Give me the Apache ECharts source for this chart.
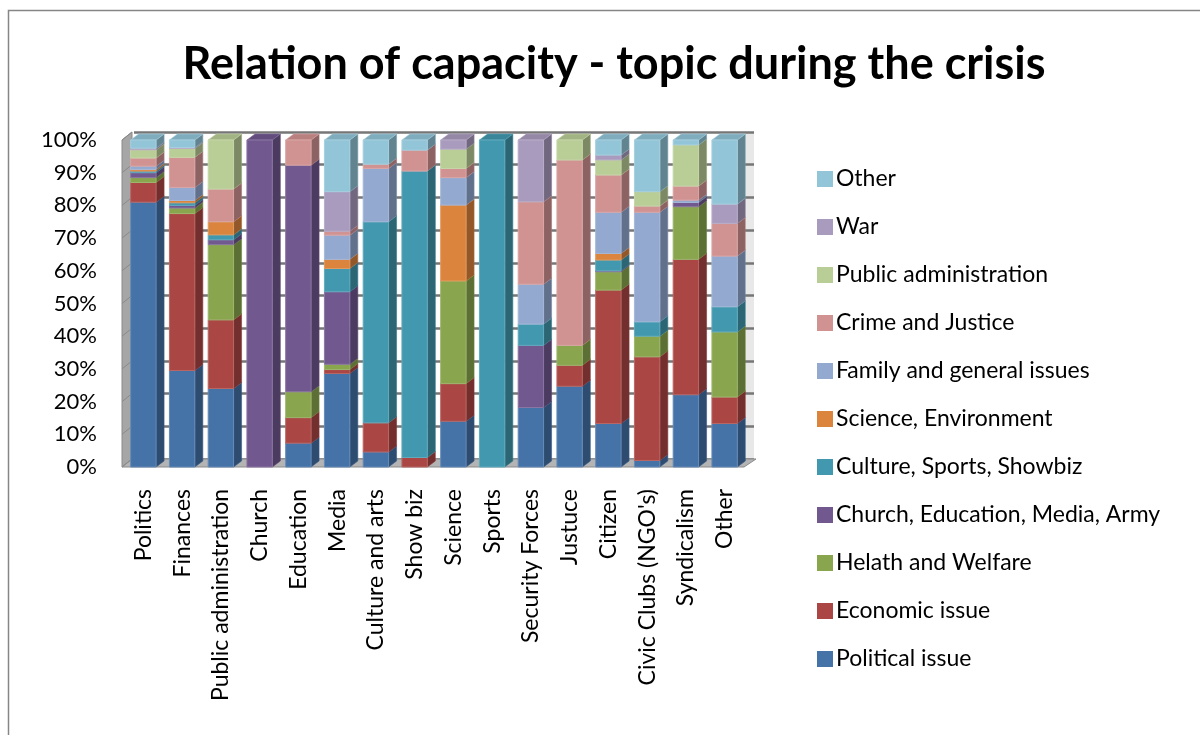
<!DOCTYPE html>
<html>
<head>
<meta charset="utf-8">
<script src="https://cdn.jsdelivr.net/npm/echarts@6/dist/echarts.min.js"></script>
<style>
  html, body { margin: 0; padding: 0; background: #fff; }
  #chart { width: 1200px; height: 735px; }
</style>
</head>
<body>
<div id="chart"></div>
<script>
// Capacity categories (x axis)
const categories = ['Politics', 'Finances', 'Public administration', 'Church', 'Education', 'Media',
  'Culture and arts', 'Show biz', 'Science', 'Sports', 'Security Forces', 'Justuce', 'Citizen',
  "Civic Clubs (NGO's)", 'Syndicalism', 'Other'];

// Share of each topic per capacity, in percent
const politicalIssue   = [81, 29.5, 24, 0, 7.3, 28.6, 4.6, 0, 14, 0, 18.2, 24.7, 13.3, 2, 22.1, 13.3];
const economicIssue    = [6, 48, 21, 0, 7.8, 1.2, 8.9, 2.9, 11.5, 0, 0, 6.4, 40.8, 31.7, 41.4, 8.1];
const healthWelfare    = [1.5, 1.7, 23, 0, 7.9, 1.6, 0, 0, 31.4, 0, 0, 6.1, 5.6, 6.3, 16.1, 19.9];
const churchEducation  = [1.5, 0.8, 1.5, 100, 69.3, 22.2, 0, 0, 0, 0, 19, 0, 0.3, 0, 1.3, 0];
const cultureSports    = [0.5, 0.8, 1.5, 0, 0, 7.1, 61.5, 87.6, 0, 100, 6.5, 0, 3.3, 4.4, 0, 7.7];
const scienceEnv       = [0.5, 0.7, 4, 0, 0, 2.8, 0, 0, 23.2, 0, 0, 0, 2, 0, 0, 0];
const familyGeneral    = [1, 4, 0, 0, 0, 7.4, 16.3, 0, 8.4, 0, 12.2, 0, 12.6, 33.5, 0.7, 15.5];
const crimeJustice     = [2.5, 9.2, 10, 0, 7.7, 1.2, 1.3, 6.4, 2.8, 0, 25.2, 56.7, 11.4, 1.9, 4.3, 10];
const publicAdmin      = [2.5, 2.7, 15, 0, 0, 0, 0, 0, 5.9, 0, 0, 6.1, 4.6, 4.4, 12.6, 0];
const war              = [0.5, 0.3, 0, 0, 0, 12.1, 0, 0, 2.8, 0, 18.9, 0, 1.5, 0, 0, 5.9];
const otherTopic       = [2.5, 2.3, 0, 0, 0, 15.8, 7.4, 3.1, 0, 0, 0, 0, 4.6, 15.8, 1.5, 19.6];

// Y axis ticks
const yTicks = { min: 0, max: 100, interval: 10 };

const topics = [
  { name: 'Political issue', values: politicalIssue, color: '#4572A7' },
  { name: 'Economic issue', values: economicIssue, color: '#AA4643' },
  { name: 'Helath and Welfare', values: healthWelfare, color: '#89A54E' },
  { name: 'Church, Education, Media, Army', values: churchEducation, color: '#71588F' },
  { name: 'Culture, Sports, Showbiz', values: cultureSports, color: '#4198AF' },
  { name: 'Science, Environment', values: scienceEnv, color: '#DB843D' },
  { name: 'Family and general issues', values: familyGeneral, color: '#93A9CF' },
  { name: 'Crime and Justice', values: crimeJustice, color: '#D19392' },
  { name: 'Public administration', values: publicAdmin, color: '#B9CD96' },
  { name: 'War', values: war, color: '#A99BBD' },
  { name: 'Other', values: otherTopic, color: '#92C5D7' }
];

const FONT = 'Lato';
const GRID = { left: 124, top: 140, width: 620, height: 327 };
const DEPTH_X = 10, DEPTH_Y = -8;     // wall depth
const BAR_DX = 8, BAR_DY = -6;        // bar depth
const GRID_COLOR = '#767676';

function shade(hex, amt) {
  const n = parseInt(hex.slice(1), 16);
  let r = (n >> 16) & 255, g = (n >> 8) & 255, b = n & 255;
  const f = c => Math.round(amt < 0 ? c * (1 + amt) : c + (255 - c) * amt);
  return 'rgb(' + f(r) + ',' + f(g) + ',' + f(b) + ')';
}

// Stack the topics: each item is [category index, lower bound, upper bound]
const running = categories.map(() => 0);
const stacked = topics.map(t => t.values.map((v, i) => {
  const lo = running[i];
  running[i] += v;
  return [i, lo, running[i]];
}));

// 3D-looking bar segment: front face, right side face and top face
function renderBar(params, api) {
  const lo = api.value(1), hi = api.value(2);
  if (hi - lo <= 0) return null;
  const idx = api.value(0);
  const a = api.coord([idx, lo]);
  const b = api.coord([idx, hi]);
  const w = api.size([1, 0])[0] * 0.655;
  const x0 = a[0] - w / 2, x1 = x0 + w, yb = a[1], yt = b[1];
  const color = topics[params.seriesIndex].color;
  return {
    type: 'group',
    children: [
      { type: 'polygon', shape: { points: [[x1, yt], [x1 + BAR_DX, yt + BAR_DY], [x1 + BAR_DX, yb + BAR_DY], [x1, yb]] },
        style: { fill: shade(color, -0.33), stroke: shade(color, -0.2), lineWidth: 0.6 } },
      { type: 'polygon', shape: { points: [[x0, yt], [x0 + BAR_DX, yt + BAR_DY], [x1 + BAR_DX, yt + BAR_DY], [x1, yt]] },
        style: { fill: shade(color, -0.12), stroke: shade(color, 0.1), lineWidth: 0.6 } },
      { type: 'rect', shape: { x: x0, y: yt, width: w, height: yb - yt },
        style: { fill: color, stroke: shade(color, 0.18), lineWidth: 1 } }
    ]
  };
}

const L = GRID.left, T = GRID.top, R = GRID.left + GRID.width, B = GRID.top + GRID.height;

// Diagonal tick marks across the left wall, one per y tick
const wallTicks = [];
for (let v = yTicks.min; v <= yTicks.max; v += yTicks.interval) {
  const y = B - (v - yTicks.min) / (yTicks.max - yTicks.min) * GRID.height;
  wallTicks.push({ type: 'line', z: 2.6, shape: { x1: L - 2, y1: y, x2: L + DEPTH_X - 2, y2: y + DEPTH_Y },
    style: { stroke: '#8a8a8a', lineWidth: 1 } });
}

const option = {
  animation: false,
  backgroundColor: '#fff',
  title: {
    text: 'Relation of capacity - topic during the crisis',
    left: 609, top: 37, textAlign: 'center',
    textStyle: { fontFamily: FONT, fontWeight: 'bold', fontSize: 45, color: '#000' }
  },
  legend: {
    orient: 'vertical', left: 812, top: 162,
    itemWidth: 16, itemHeight: 16, itemGap: 24, icon: 'rect',
    data: topics.map(t => t.name).reverse(),
    textStyle: { fontFamily: FONT, fontSize: 23, color: '#000', lineHeight: 24, padding: [0, 0, 0, -2] }
  },
  graphic: [
    // chart frame
    { type: 'polyline', z: 0, shape: { points: [[8.5, 740], [8.5, 10.5], [1210, 10.5]] },
      style: { stroke: '#868686', lineWidth: 1.5, fill: null } },
    // shaded strip at the right end of the back wall
    { type: 'rect', z: 1, shape: { x: R + 2, y: T + DEPTH_Y, width: DEPTH_X - 2, height: GRID.height },
      style: { fill: '#e8e8e8' } },
    // left wall
    { type: 'polygon', z: 2.5, shape: { points: [[L - 2, B], [L - 2, T], [L + DEPTH_X - 2, T + DEPTH_Y], [L + DEPTH_X - 2, B + DEPTH_Y]] },
      style: { fill: '#a6a6a6', stroke: '#8a8a8a', lineWidth: 1 } },
    // floor
    { type: 'polygon', z: 2.5, shape: { points: [[L - 2, B], [R, B], [R + DEPTH_X + 2, B + DEPTH_Y], [L + DEPTH_X - 2, B + DEPTH_Y]] },
      style: { fill: '#b4b4b4', stroke: '#8a8a8a', lineWidth: 1 } }
  ].concat(wallTicks),
  grid: [
    { left: GRID.left, top: GRID.top, width: GRID.width, height: GRID.height },
    { left: GRID.left + DEPTH_X, top: GRID.top + DEPTH_Y, width: GRID.width, height: GRID.height }
  ],
  xAxis: [
    { type: 'category', gridIndex: 0, data: categories,
      axisLine: { show: false }, axisTick: { show: false },
      axisLabel: { rotate: 90, margin: 22, fontFamily: FONT, fontSize: 23, color: '#000', interval: 0 } },
    { type: 'category', gridIndex: 1, data: categories, show: false }
  ],
  yAxis: [
    { type: 'value', gridIndex: 0, min: yTicks.min, max: yTicks.max, interval: yTicks.interval,
      axisLine: { show: false }, axisTick: { show: false }, splitLine: { show: false },
      axisLabel: { formatter: '{value}%', margin: 27, fontFamily: FONT, fontSize: 22, color: '#000' } },
    // back wall gridlines
    { type: 'value', gridIndex: 1, min: yTicks.min, max: yTicks.max, interval: yTicks.interval, z: 2,
      axisLine: { show: false }, axisTick: { show: false }, axisLabel: { show: false },
      splitLine: { show: true, lineStyle: { color: GRID_COLOR, width: 2.5 } } }
  ],
  series: topics.map((t, k) => ({
    type: 'custom',
    name: t.name,
    xAxisIndex: 0, yAxisIndex: 0,
    z: 3,
    itemStyle: { color: t.color },
    renderItem: renderBar,
    encode: { x: 0, y: [1, 2] },
    data: stacked[k]
  }))
};

const chart = echarts.init(document.getElementById('chart'), null, { renderer: 'canvas' });
chart.setOption(option);
</script>
</body>
</html>
